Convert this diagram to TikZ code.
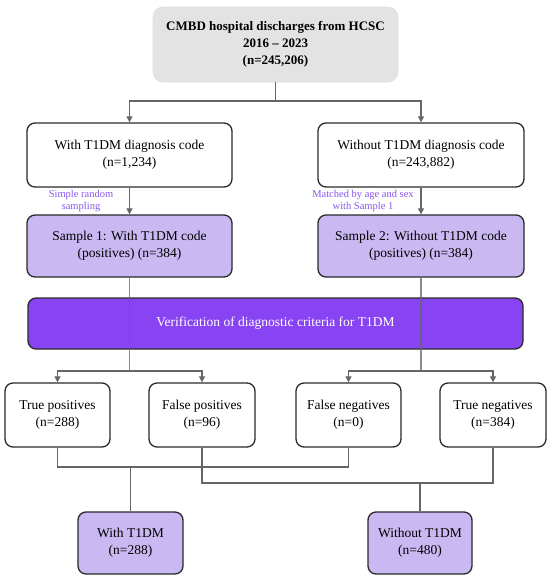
\documentclass[tikz,border=0pt]{standalone}
\usepackage{fontspec}
\setmainfont{Liberation Serif}
\usetikzlibrary{arrows.meta}
\definecolor{lav}{HTML}{C9B8F2}
\definecolor{vio}{HTML}{8844F2}
\definecolor{lbl}{HTML}{8A55F0}
\definecolor{conn}{HTML}{666666}
\definecolor{bord}{HTML}{2A2A2A}
\tikzset{
  box/.style={draw=bord, line width=1.3pt, rounded corners=8pt, fill=white,
    align=center, inner sep=2pt, font=\fontsize{13.5}{17}\selectfont},
  topbox/.style={draw=gray!25, line width=0.6pt, fill=gray!22, rounded corners=10pt,
    align=center, font=\bfseries\fontsize{13}{17}\selectfont},
  sampbox/.style={box, fill=lav},
  verbox/.style={box, fill=vio, text=white},
  line/.style={draw=conn, line width=1.1pt},
  arr/.style={line, -{Triangle[length=6pt,width=6pt]}},
  lab/.style={text=lbl, align=center, font=\fontsize{10.5}{12.5}\selectfont, inner sep=0pt}
}
\begin{document}
\begin{tikzpicture}[x=1pt,y=-1pt]
\useasboundingbox (0,0) rectangle (550,579);
\node[topbox, minimum width=245pt, minimum height=75pt] (top) at (275.5,44.5)
  {CMBD hospital discharges from HCSC\\2016 -- 2023\\(n=245,206)};
\node[box, minimum width=205pt, minimum height=64pt] (w1) at (129.5,155)
  {With T1DM diagnosis code\\(n=1,234)};
\node[box, minimum width=206pt, minimum height=64pt] (wo1) at (421,155)
  {Without T1DM diagnosis code\\(n=243,882)};
\node[sampbox, minimum width=205pt, minimum height=62pt] (s1) at (129.5,246)
  {Sample 1: With T1DM code\\(positives) (n=384)};
\node[sampbox, minimum width=206pt, minimum height=62pt] (s2) at (421,246)
  {Sample 2: Without T1DM code\\(positives) (n=384)};
\node[verbox, minimum width=495pt, minimum height=51pt] (ver) at (275.5,323.5)
  {Verification of diagnostic criteria for T1DM};
\node[box, minimum width=105pt, minimum height=64pt] (tp) at (57.5,415)
  {True positives\\(n=288)};
\node[box, minimum width=106pt, minimum height=64pt] (fp) at (202,415)
  {False positives\\(n=96)};
\node[box, minimum width=105pt, minimum height=64pt] (fn) at (348.5,415)
  {False negatives\\(n=0)};
\node[box, minimum width=106pt, minimum height=64pt] (tn) at (493,415)
  {True negatives\\(n=384)};
\node[sampbox, minimum width=105pt, minimum height=62pt] (with) at (130.5,543)
  {With T1DM\\(n=288)};
\node[sampbox, minimum width=104pt, minimum height=62pt] (without) at (420,543)
  {Without T1DM\\(n=480)};
\node[lab] (l1) at (81,201) {Simple random\\sampling};
\node[lab] (l2) at (363,201) {Matched by age and sex\\with Sample 1};
\coordinate (j1) at (275.5,101);
\coordinate (j2) at (129.5,371);
\coordinate (j3) at (421,371);
\coordinate (m1) at (130.5,467);
\coordinate (m2) at (420,483);
\draw[line] (top) -- (j1);
\draw[arr] (j1) -| (w1);
\draw[arr] (j1) -| (wo1);
\draw[arr] (w1) -- (s1);
\draw[arr] (wo1) -- (s2);
\draw[line, opacity=0.75] (s1) -- (j2);
\draw[line, opacity=0.75] (s2) -- (j3);
\draw[arr] (j2) -| (tp);
\draw[arr] (j2) -| (fp);
\draw[arr] (j3) -| (fn);
\draw[arr] (j3) -| (tn);
\draw[line] (tp.south) |- (m1) -| (fn.south);
\draw[line] (fp.south) |- (m2) -| (tn.south);
\draw[line] (m1) -- (with);
\draw[line] (m2) -- (without);
\end{tikzpicture}
\end{document}
